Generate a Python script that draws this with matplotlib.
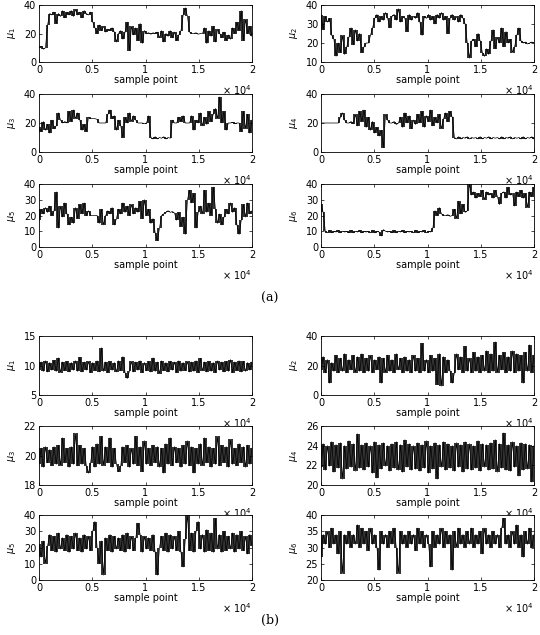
import matplotlib
matplotlib.use("Agg")
import matplotlib.pyplot as plt
import numpy as np

plt.rcParams['font.family'] = 'DejaVu Sans'
plt.rcParams['font.size'] = 7
plt.rcParams['mathtext.fontset'] = 'dejavusans'

n_samples = 20000
x_ticks = [0, 5000, 10000, 15000, 20000]
x_tick_labels = ["0", "0.5", "1", "1.5", "2"]

# ---- (a) traces (about 200 samples per value) ----
a_mu1 = [10, 11, 9, 10, 26, 34,
         33, 35, 27, 34, 32, 36, 31, 35, 33, 36, 32, 37, 33, 35, 31, 36, 34, 33, 35,
         28, 24, 20, 26, 22, 25, 21, 23,
         22, 24, 21, 14, 20, 22, 16, 21, 28, 8, 25, 19,
         24, 15, 27, 13, 22, 20, 20.5, 19.5, 20.5, 20, 21,
         17, 22, 14, 20, 18, 22, 17, 21, 15, 19, 22,
         33, 38, 32, 21, 20, 20, 20.5, 19.5, 20, 20,
         24, 13, 22, 18, 25, 14, 23, 20, 17, 21, 15, 19, 16,
         24, 20, 28, 22, 36, 15, 30, 20, 25, 18]
a_mu2 = [35, 27, 34, 31, 33, 24, 22, 13,
         20, 15, 24, 14, 18, 23, 28, 19, 27, 21, 25,
         15, 18, 20, 20, 24, 28,
         33, 35, 31, 34, 32, 36, 33, 28, 34, 35,
         32, 38, 31, 34, 33, 26, 35, 32, 34, 33,
         36, 31, 24, 34, 33, 35, 32, 34, 30, 35,
         33, 36, 32, 34, 25, 33, 35, 32, 34, 31,
         35, 33,
         30, 20, 12, 21, 22, 18, 25, 21, 15, 13, 17, 14,
         21, 27, 17, 23, 20, 28, 18, 26, 20, 22,
         15, 18, 24, 28, 21, 20, 20.5, 19.5, 20, 20.5, 20]
a_mu3 = [17, 14, 21, 15, 19, 13, 22, 16, 18, 27, 22,
         20, 21, 20, 28, 21, 29, 23, 27, 22, 15, 19, 14, 24, 23,
         23, 23, 22.5, 20, 20, 20, 20, 26, 29, 23, 25, 15, 22, 18, 10,
         24, 20, 27, 21, 25, 22, 20, 20, 20, 19.5, 20, 25, 10,
         9, 10.5, 9, 10, 9.5, 10.5, 9, 10, 9.5,
         22, 20, 20, 24, 21, 25, 20, 20, 20, 25, 15, 22,
         20, 27, 18, 24, 19, 28, 21, 26, 30, 23, 38, 20, 28, 15,
         20, 20, 20.5, 19.5, 20, 20, 14, 28, 16, 26, 13, 22]
a_mu4 = [20, 20, 20, 20, 20, 20, 20, 20, 20, 24, 27, 22,
         20, 20, 21, 19.5, 26, 18, 28, 21, 29, 17, 24,
         15, 21, 13, 17, 11, 15, 3, 26, 22, 20, 20, 21, 19, 20,
         24, 17, 27, 20, 25, 16, 22, 19, 26, 20, 28, 17,
         25, 21, 29, 18, 24, 20, 26, 16, 23, 27, 21, 28, 24,
         10, 9, 10.5, 9, 10, 9.5, 10.5, 9, 10, 9.5,
         10, 9, 10.5, 9, 10, 9.5, 10.5, 9, 10, 9.5,
         10, 9, 10.5, 9, 10, 9.5, 10.5, 9, 10, 9.5,
         10, 9, 10.5, 9, 10, 9.5, 10.5, 9]
a_mu5 = [17, 24, 21, 25, 22, 26, 20, 23, 35, 12,
         26, 19, 28, 21, 14, 19, 15, 25, 18, 27, 21, 28, 20, 23,
         20, 20, 20, 20, 15, 24, 14, 20, 23, 21, 25, 14, 18,
         24, 21, 28, 22, 26, 20, 27, 21, 25, 22, 29, 18, 30, 20, 24,
         15, 18, 9, 4, 12, 20, 21, 22, 23, 22, 22.5, 21.5,
         17, 22, 13, 19, 8, 30, 36, 28, 34, 12, 22,
         26, 21, 36, 22, 28, 20, 38, 24, 15, 21, 14, 19,
         24, 21, 28, 22, 25, 14, 8, 17, 27, 19, 28, 21, 23]
a_mu6 = [27, 22,
         10, 9, 10.5, 9, 10, 9.5, 10.5, 9, 10, 9.5,
         10, 9, 10.5, 9, 10, 9.5, 10.5, 9, 10, 9.5,
         10, 9, 10.5, 9, 10, 9.5, 7, 11, 10, 9.5,
         10, 9, 10.5, 9, 10, 9.5, 10.5, 9, 10, 9.5,
         10, 9, 10.5, 9, 10, 9.5, 10.5, 9, 10, 9.5,
         12, 23, 20, 25, 21, 20, 20, 20.5, 19.5, 20,
         24, 18, 29, 21, 27, 22, 23, 40,
         33, 35, 31, 34, 32, 36, 30, 35, 33, 34,
         31, 36, 32, 27, 34, 35, 31, 38, 33, 34,
         26, 35, 32, 36, 31, 34, 25, 35, 32, 38]

# ---- (b) traces ----
b_mu1 = [9.3, 10.6, 9.0, 10.8, 8.9, 10.5, 9.2, 10.9, 9.0, 11.3,
         8.8, 10.6, 9.1, 10.7, 8.9, 10.5, 9.2, 10.8, 9.0, 11.4,
         8.9, 10.6, 9.2, 10.7, 8.8, 10.5, 9.1, 10.8, 8.9, 13.0,
         9.0, 10.6, 8.8, 10.7, 9.2, 10.5, 8.9, 10.8, 9.1, 11.5,
         8.8, 7.8, 9.0, 10.7, 8.9, 10.6, 9.2, 10.8, 8.8, 10.5,
         9.1, 10.7, 8.9, 11.3, 9.0, 10.6, 8.6, 10.8, 9.1, 10.5,
         8.9, 10.7, 9.2, 10.6, 8.8, 10.8, 9.0, 10.5, 9.1, 10.7,
         8.9, 10.6, 9.0, 10.8, 8.8, 11.2, 9.1, 10.6, 8.9, 10.7,
         9.0, 10.5, 8.8, 10.8, 9.2, 10.6, 8.9, 10.7, 9.0, 11.0,
         8.8, 10.6, 9.1, 10.8, 8.9, 10.7, 9.0, 10.5, 9.2, 10.6]
b_mu2 = [17, 26, 15, 24, 8, 22, 16, 27, 15, 25,
         16, 28, 15, 24, 17, 27, 15, 26, 16, 28,
         15, 25, 16, 27, 15, 24, 17, 26, 8, 25,
         15, 27, 16, 24, 15, 28, 17, 25, 15, 26,
         16, 24, 15, 27, 16, 25, 15, 35, 16, 24,
         15, 27, 16, 25, 7, 28, 6, 26, 15, 24,
         16, 8, 15, 28, 17, 26, 15, 33, 16, 25,
         15, 29, 16, 26, 15, 27, 16, 30, 15, 28,
         16, 36, 15, 27, 17, 29, 15, 26, 16, 30,
         15, 28, 16, 27, 8, 29, 16, 34, 15, 27]
b_mu3 = [19.4, 20.5, 19.2, 20.6, 19.5, 20.4, 19.3, 20.6, 19.4, 20.7,
         19.3, 21.2, 19.5, 20.5, 19.2, 20.6, 19.4, 21.5, 19.3, 20.7,
         19.4, 20.5, 19.3, 18.8, 19.5, 20.6, 19.2, 20.8, 19.4, 21.3,
         19.3, 20.6, 19.5, 21.2, 19.2, 20.5, 19.4, 18.9, 19.3, 20.6,
         19.5, 20.7, 19.2, 20.5, 19.4, 21.3, 19.3, 20.6, 18.9, 21.0,
         19.4, 20.5, 19.3, 20.7, 19.5, 20.6, 19.2, 20.5, 18.8, 20.8,
         19.4, 21.2, 19.3, 20.6, 19.5, 20.5, 19.2, 20.7, 19.4, 21.0,
         19.3, 20.6, 18.8, 20.5, 19.4, 20.8, 19.3, 21.2, 19.5, 20.6,
         19.2, 20.5, 19.4, 21.3, 19.3, 20.7, 19.5, 20.6, 19.2, 21.1,
         19.4, 20.5, 19.3, 20.8, 19.5, 20.6, 19.2, 20.7, 19.4, 20.5]
b_mu4 = [21.8, 24.2, 21.5, 24.0, 21.9, 24.4, 21.3, 24.1, 21.7, 24.3,
         20.6, 24.0, 21.6, 24.5, 21.8, 24.2, 21.4, 25.2, 21.7, 24.1,
         21.5, 24.3, 21.8, 24.0, 21.2, 24.4, 20.7, 24.1, 21.6, 24.3,
         21.9, 24.0, 21.4, 24.2, 21.7, 24.4, 21.5, 24.1, 21.3, 24.6,
         21.8, 24.2, 21.5, 24.0, 21.6, 24.3, 21.4, 24.1, 21.7, 24.5,
         21.2, 24.0, 21.6, 24.3, 20.6, 24.1, 21.8, 24.4, 21.5, 24.2,
         21.7, 24.0, 21.4, 24.3, 21.8, 24.1, 21.3, 24.4, 21.6, 24.2,
         21.5, 24.0, 21.7, 24.5, 21.4, 24.2, 21.8, 24.1, 21.5, 24.3,
         21.6, 24.6, 21.3, 24.2, 21.7, 25.3, 21.5, 24.1, 21.4, 24.4,
         21.8, 24.0, 20.9, 24.3, 21.5, 24.2, 21.6, 24.1, 20.3, 24.0]
b_mu5 = [22, 14, 24, 10, 21, 28, 18, 27, 17, 29,
         19, 26, 18, 28, 17, 27, 19, 29, 18, 26,
         17, 28, 19, 27, 18, 30, 36, 20, 10, 24,
         3, 26, 18, 28, 17, 27, 19, 26, 18, 28,
         17, 29, 19, 27, 18, 26, 35, 28, 17, 27,
         19, 26, 18, 28, 17, 3, 20, 27, 18, 29,
         17, 28, 19, 27, 18, 30, 17, 8, 25, 40,
         18, 29, 17, 30, 36, 19, 28, 17, 31, 18,
         29, 17, 38, 19, 28, 17, 30, 18, 27, 19,
         29, 17, 28, 19, 30, 18, 27, 16, 28, 21]
b_mu6 = [27, 34, 31, 35, 30, 36, 31, 34, 28, 35,
         22, 34, 31, 35, 30, 34, 31, 37, 30, 36,
         31, 35, 29, 36, 31, 34, 30, 23, 35, 31,
         34, 30, 35, 31, 36, 30, 22, 35, 31, 34,
         30, 35, 31, 34, 29, 36, 31, 35, 30, 34,
         31, 24, 35, 30, 34, 31, 36, 30, 35, 31,
         34, 23, 35, 30, 36, 31, 34, 30, 35, 31,
         36, 30, 34, 31, 35, 28, 36, 31, 34, 30,
         35, 31, 34, 30, 36, 39, 31, 34, 30, 35,
         31, 37, 30, 34, 27, 35, 31, 36, 30, 34]

# (trace, y limits, y ticks, label, column, top px, bottom px)
panels = [
    (a_mu1, (0, 40), [0, 20, 40], r"$\mu_1$", 0, 5, 62),
    (a_mu2, (10, 40), [10, 20, 30, 40], r"$\mu_2$", 1, 5, 62),
    (a_mu3, (0, 40), [0, 20, 40], r"$\mu_3$", 0, 94, 152),
    (a_mu4, (0, 40), [0, 20, 40], r"$\mu_4$", 1, 94, 152),
    (a_mu5, (0, 40), [0, 10, 20, 30, 40], r"$\mu_5$", 0, 184, 247),
    (a_mu6, (0, 40), [0, 10, 20, 30, 40], r"$\mu_6$", 1, 184, 247),
    (b_mu1, (5, 15), [5, 10, 15], r"$\mu_1$", 0, 336, 395),
    (b_mu2, (0, 40), [0, 20, 40], r"$\mu_2$", 1, 336, 395),
    (b_mu3, (18, 22), [18, 20, 22], r"$\mu_3$", 0, 426, 485),
    (b_mu4, (20, 26), [20, 22, 24, 26], r"$\mu_4$", 1, 426, 485),
    (b_mu5, (0, 40), [0, 10, 20, 30, 40], r"$\mu_5$", 0, 515, 580),
    (b_mu6, (20, 40), [20, 25, 30, 35, 40], r"$\mu_6$", 1, 515, 580),
]

W, H = 540, 635
fig = plt.figure(figsize=(W / 100, H / 100), dpi=100)
col_left = [39, 321]
ax_w = 213

for trace, ylim, yticks, label, col, top, bottom in panels:
    ax = fig.add_axes([col_left[col] / W, 1 - bottom / H, ax_w / W, (bottom - top) / H])
    t = np.asarray(trace, dtype=float)
    x = np.linspace(0, n_samples, len(t))
    # dense MCMC trace: a stroke over the span between neighbouring readings
    lo = np.minimum(t[:-1], t[1:])
    hi = np.maximum(t[:-1], t[1:])
    xm = (x[:-1] + x[1:]) / 2
    ax.vlines(xm, lo, hi, color="k", lw=1.15)
    ax.plot(x, t, color="k", lw=0.5)
    ax.set_xlim(0, n_samples)
    ax.set_ylim(*ylim)
    ax.set_xticks(x_ticks)
    ax.set_xticklabels(x_tick_labels)
    ax.set_yticks(yticks)
    ax.tick_params(direction="in", length=2, width=0.5, top=True, right=True, pad=2)
    for s in ax.spines.values():
        s.set_linewidth(0.6)
    ax.set_xlabel("sample point", labelpad=0)
    ax.set_ylabel(label, labelpad=4)
    ax.annotate("× 10$^4$", xy=(1, 0), xycoords="axes fraction", xytext=(0, -21),
                textcoords="offset pixels", ha="right", va="top")

fig.text(0.5, 1 - 298 / H, "(a)", family="DejaVu Serif", fontsize=9, ha="center", va="center")
fig.text(0.5, 1 - 620 / H, "(b)", family="DejaVu Serif", fontsize=9, ha="center", va="center")

fig.savefig("out.png", dpi=100)
